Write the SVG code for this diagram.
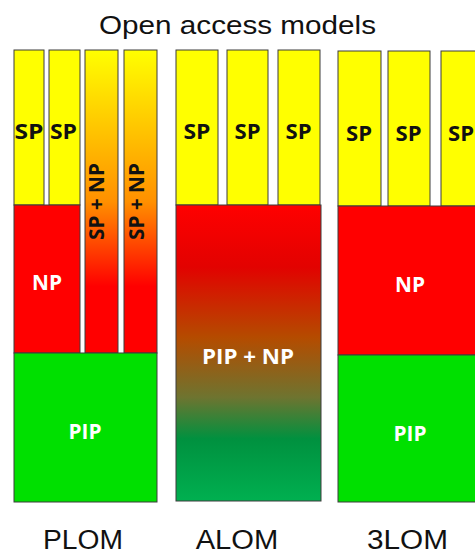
<svg xmlns="http://www.w3.org/2000/svg" width="475" height="554" viewBox="0 0 475 554">
  <defs>
    <!-- shared-provider column fading from SP yellow into NP red -->
    <linearGradient id="spnp" x1="0" y1="50" x2="0" y2="353" gradientUnits="userSpaceOnUse">
      <stop offset="0" stop-color="#FFFF00"/>
      <stop offset="0.5" stop-color="#FF9000"/>
      <stop offset="0.78" stop-color="#FF0000"/>
      <stop offset="1" stop-color="#FF0000"/>
    </linearGradient>
    <!-- combined PIP + NP block, red on top to green at the base -->
    <linearGradient id="pipnp" x1="0" y1="205" x2="0" y2="501" gradientUnits="userSpaceOnUse">
      <stop offset="0" stop-color="#FF0000"/>
      <stop offset="0.21" stop-color="#E20200"/>
      <stop offset="0.45" stop-color="#B44C00"/>
      <stop offset="0.65" stop-color="#6E7430"/>
      <stop offset="0.79" stop-color="#00913F"/>
      <stop offset="1" stop-color="#00B050"/>
    </linearGradient>
  </defs>
  <style>
    .box { stroke: #3c3c3c; stroke-width: 1; }
    .sp { fill: #FFFF00; }
    .np { fill: #FF0000; }
    .pip { fill: #00E000; }
    .lbl { font-family: "Open Sans", "Noto Sans", sans-serif; font-weight: bold; text-anchor: middle; }
    .dark { fill: #111111; font-size: 21.5px; }
    .light { fill: #FFFFFF; font-size: 21.5px; }
    .cap { font-family: "Liberation Sans", Arial, sans-serif; fill: #111111; text-anchor: middle; }
  </style>

  <rect width="475" height="554" fill="#FFFFFF"/>

  <g id="title">
    <text class="cap" x="237.5" y="34" font-size="25" textLength="277" lengthAdjust="spacingAndGlyphs">Open access models</text>
  </g>

  <!-- PLOM -->
  <g id="plom">
    <rect class="box sp" x="14" y="50" width="30" height="155"/>
    <rect class="box sp" x="49" y="50" width="31" height="155"/>
    <rect class="box" fill="url(#spnp)" x="85" y="50" width="33" height="303"/>
    <rect class="box" fill="url(#spnp)" x="124" y="50" width="33" height="303"/>
    <rect class="box np" x="14" y="205" width="66" height="148"/>
    <rect class="box pip" x="14" y="353" width="143" height="149"/>
    <text class="lbl dark" x="29" y="138.5" textLength="29" lengthAdjust="spacingAndGlyphs">SP</text>
    <text class="lbl dark" x="63.5" y="138.5" textLength="27" lengthAdjust="spacingAndGlyphs">SP</text>
    <text class="lbl dark" transform="translate(103.5,201.5) rotate(-90)" font-size="18" textLength="77" lengthAdjust="spacingAndGlyphs">SP + NP</text>
    <text class="lbl dark" transform="translate(144,201.5) rotate(-90)" font-size="18" textLength="77" lengthAdjust="spacingAndGlyphs">SP + NP</text>
    <text class="lbl light" x="47" y="289.5" textLength="30" lengthAdjust="spacingAndGlyphs">NP</text>
    <text class="lbl light" x="85" y="438.5" textLength="33" lengthAdjust="spacingAndGlyphs">PIP</text>
    <text class="cap" x="83" y="549" font-size="27" textLength="80" lengthAdjust="spacingAndGlyphs">PLOM</text>
  </g>

  <!-- ALOM -->
  <g id="alom">
    <rect class="box sp" x="176" y="50" width="42" height="155"/>
    <rect class="box sp" x="227" y="50" width="41" height="155"/>
    <rect class="box sp" x="278" y="50" width="42" height="155"/>
    <rect class="box" fill="url(#pipnp)" x="176" y="205" width="145" height="296"/>
    <text class="lbl dark" x="197" y="138.5" textLength="27" lengthAdjust="spacingAndGlyphs">SP</text>
    <text class="lbl dark" x="247.5" y="138.5" textLength="26" lengthAdjust="spacingAndGlyphs">SP</text>
    <text class="lbl dark" x="298.5" y="138.5" textLength="26" lengthAdjust="spacingAndGlyphs">SP</text>
    <text class="lbl light" x="248" y="363.5" font-size="23" textLength="92" lengthAdjust="spacingAndGlyphs">PIP + NP</text>
    <text class="cap" x="237" y="549" font-size="27" textLength="82.6" lengthAdjust="spacingAndGlyphs">ALOM</text>
  </g>

  <!-- 3LOM -->
  <g id="lom3">
    <rect class="box sp" x="338" y="51" width="43" height="155"/>
    <rect class="box sp" x="388" y="51" width="42" height="155"/>
    <rect class="box sp" x="441" y="51" width="42" height="155"/>
    <rect class="box np" x="338" y="206" width="150" height="149"/>
    <rect class="box pip" x="338" y="355" width="150" height="147"/>
    <text class="lbl dark" x="359" y="140.5" textLength="26" lengthAdjust="spacingAndGlyphs">SP</text>
    <text class="lbl dark" x="408.5" y="140.5" textLength="26" lengthAdjust="spacingAndGlyphs">SP</text>
    <text class="lbl dark" x="461" y="140.5" textLength="26" lengthAdjust="spacingAndGlyphs">SP</text>
    <text class="lbl light" x="410" y="291.5" textLength="30" lengthAdjust="spacingAndGlyphs">NP</text>
    <text class="lbl light" x="410" y="440.5" textLength="33" lengthAdjust="spacingAndGlyphs">PIP</text>
    <text class="cap" x="407.5" y="549" font-size="27" textLength="81" lengthAdjust="spacingAndGlyphs">3LOM</text>
  </g>
</svg>
